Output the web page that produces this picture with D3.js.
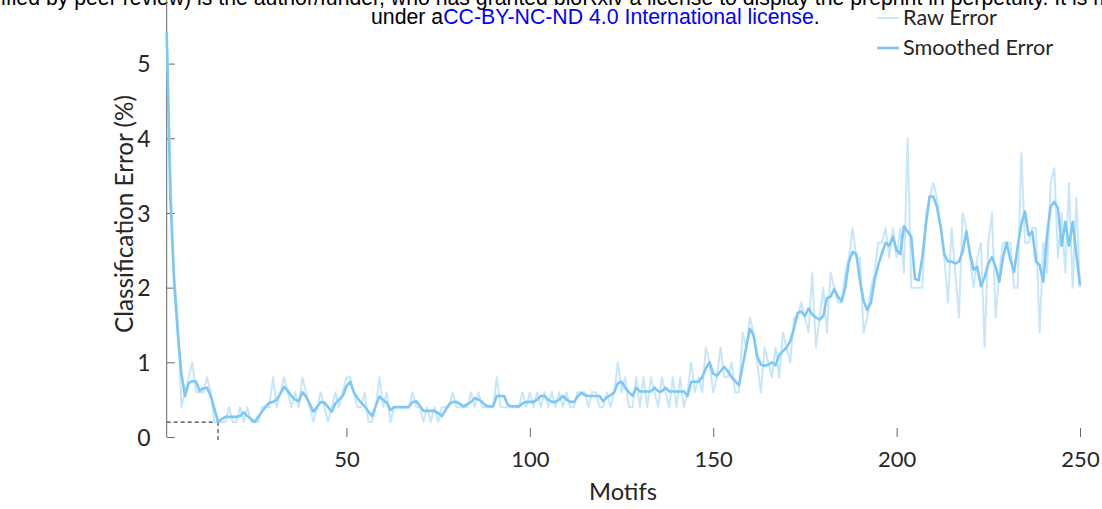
<!DOCTYPE html>
<html>
<head>
<meta charset="utf-8">
<script src="https://cdn.jsdelivr.net/npm/d3@7"></script>
<style>
  html, body { margin: 0; padding: 0; background: #fff; }
  svg { display: block; }
</style>
</head>
<body>
<svg id="chart" width="1102" height="509"></svg>
<script>
// Classification error per number of motifs
const motifs = d3.range(1, 251);

const rawError = [
  5.4, 3.6, 2.2, 1.6, 0.4, 0.6, 0.8, 1.0, 0.6, 0.6, 0.6, 0.8, 0.6, 0.2, 0.2,
  0.2, 0.2, 0.4, 0.2, 0.2, 0.4, 0.2, 0.4, 0.2, 0.2,
  0.2, 0.4, 0.4, 0.4, 0.8, 0.4, 0.6, 0.8, 0.6, 0.4, 0.6, 0.4,
  0.8, 0.6, 0.4, 0.2, 0.4, 0.6, 0.4, 0.2, 0.4, 0.6, 0.4, 0.6, 0.8,
  0.8, 0.6, 0.4, 0.4, 0.6, 0.2, 0.2, 0.4, 0.8, 0.4,
  0.6, 0.2, 0.4, 0.4, 0.4, 0.4, 0.4, 0.6, 0.4, 0.4,
  0.2, 0.4, 0.2, 0.4, 0.2, 0.4, 0.4, 0.4, 0.6, 0.4,
  0.4, 0.4, 0.4, 0.6, 0.4, 0.6, 0.4, 0.4, 0.4, 0.4,
  0.8, 0.4, 0.4, 0.4, 0.4, 0.4, 0.4, 0.6, 0.4, 0.6,
  0.4, 0.6, 0.4, 0.6, 0.4, 0.6, 0.4, 0.6, 0.4, 0.6,
  0.4, 0.4, 0.6, 0.6, 0.6, 0.4, 0.6, 0.6, 0.4, 0.4,
  0.6, 0.4, 0.6, 1.0, 0.6, 0.8, 0.4, 0.4, 0.8, 0.4,
  0.8, 0.4, 0.8, 0.6, 0.4, 0.8, 0.6, 0.4, 0.8, 0.4,
  0.8, 0.4, 0.6, 1.0, 0.6, 0.8, 0.6, 1.2, 1.0, 0.6,
  0.8, 1.2, 0.8, 0.8, 1.0, 0.6, 0.6, 1.4, 1.2, 1.6,
  1.4, 1.0, 0.6, 1.2, 1.0, 0.8, 1.2, 0.8, 1.4, 1.2,
  1.0, 1.6, 1.6, 1.8, 1.6, 1.4, 2.2, 1.2, 1.6, 2.0,
  1.4, 2.2, 2.0, 1.8, 1.8, 2.2, 2.4, 2.8, 2.4, 2.4,
  1.4, 1.6, 2.0, 2.2, 2.6, 2.6, 2.8, 2.4, 2.8, 2.4,
  2.8, 2.2, 4.0, 2.0, 2.0, 2.0, 2.0, 3.0, 3.2, 3.4,
  3.2, 2.8, 2.4, 1.8, 2.8, 2.2, 1.6, 3.0, 2.8, 2.4,
  2.0, 2.4, 2.6, 1.2, 2.6, 3.0, 1.6, 2.2, 2.6, 2.6,
  2.6, 2.0, 2.0, 3.8, 2.6, 2.6, 2.8, 2.8, 1.4, 2.6,
  2.2, 3.4, 3.6, 2.4, 3.0, 2.2, 3.4, 2.0, 3.2, 2.0
];

const smoothedError = [
  5.42, 3.20, 2.10, 1.40, 0.85, 0.55, 0.72, 0.75, 0.74, 0.62, 0.65, 0.66, 0.55, 0.38, 0.20,
  0.24, 0.27, 0.27, 0.27, 0.27, 0.28, 0.33, 0.28, 0.24, 0.20,
  0.27, 0.34, 0.41, 0.46, 0.47, 0.50, 0.58, 0.67, 0.62, 0.55,
  0.50, 0.48, 0.60, 0.54, 0.44, 0.34, 0.40, 0.47, 0.46, 0.40,
  0.34, 0.45, 0.50, 0.55, 0.68, 0.74, 0.60, 0.52, 0.46, 0.41,
  0.34, 0.28, 0.42, 0.54, 0.50, 0.46, 0.36, 0.40, 0.40, 0.40,
  0.40, 0.40, 0.47, 0.48, 0.42, 0.35, 0.35, 0.35, 0.35, 0.32,
  0.28, 0.36, 0.44, 0.47, 0.47, 0.44, 0.41, 0.44, 0.47, 0.52,
  0.50, 0.47, 0.42, 0.41, 0.41, 0.55, 0.55, 0.55, 0.43, 0.41,
  0.41, 0.41, 0.45, 0.47, 0.47, 0.47, 0.50, 0.55, 0.55, 0.50,
  0.47, 0.47, 0.50, 0.55, 0.50, 0.47, 0.47, 0.54, 0.59, 0.56,
  0.55, 0.55, 0.55, 0.55, 0.48, 0.53, 0.56, 0.60, 0.72, 0.74,
  0.66, 0.60, 0.55, 0.66, 0.61, 0.61, 0.61, 0.61, 0.66, 0.61,
  0.61, 0.66, 0.61, 0.61, 0.61, 0.61, 0.61, 0.55, 0.74, 0.74,
  0.74, 0.80, 0.92, 1.00, 0.85, 0.82, 0.88, 0.94, 0.88, 0.80,
  0.75, 0.69, 0.95, 1.20, 1.45, 1.36, 1.08, 0.97, 0.95, 0.97,
  1.00, 0.96, 1.10, 1.15, 1.20, 1.28, 1.45, 1.66, 1.68, 1.62,
  1.72, 1.64, 1.60, 1.57, 1.62, 1.86, 1.88, 1.98, 1.88, 1.82,
  2.00, 2.35, 2.48, 2.45, 2.10, 1.82, 1.70, 1.80, 2.10, 2.30,
  2.46, 2.60, 2.56, 2.68, 2.50, 2.45, 2.82, 2.75, 2.68, 2.12,
  2.10, 2.40, 2.85, 3.22, 3.22, 3.08, 2.82, 2.45, 2.35, 2.35,
  2.32, 2.35, 2.48, 2.75, 2.46, 2.24, 2.28, 2.02, 2.14, 2.32,
  2.41, 2.28, 2.08, 2.40, 2.60, 2.38, 2.21, 2.55, 2.85, 3.02,
  2.70, 2.75, 2.35, 2.30, 2.08, 2.70, 3.09, 3.15, 3.06, 2.56,
  2.88, 2.56, 2.88, 2.45, 2.03
];

// Marked minimum of the smoothed curve
const minMotif = 15;
const minError = 0.2;

const xTicks = [50, 100, 150, 200, 250];
const yTicks = [0, 1, 2, 3, 4, 5];
const seriesNames = ["Raw Error", "Smoothed Error"];

const headerLine1 = "ified by peer review) is the author/funder, who has granted bioRxiv a license to display the preprint in perpetuity. It is m";
const headerLine2 = ["under a", "CC-BY-NC-ND 4.0 International license", "."];

const rawColor = "#c8e6fb";
const smoothColor = "#7dc7f6";
const axisColor = "#666";
const textColor = "#262626";
const uiFont = "Lato, 'Open Sans', sans-serif";

const svg = d3.select("#chart");

const x = d3.scaleLinear().domain([1, 250]).range([166.7, 1080]);
const y = d3.scaleLinear().domain([0, 5]).range([437, 63.6]);

// scale a text element's font size so it spans the given width
function fit(sel, width) {
  const node = sel.node();
  const base = parseFloat(sel.attr("font-size"));
  const w = node.getComputedTextLength();
  sel.attr("font-size", (base * width / w).toFixed(2));
  return sel;
}

// header text
const h1 = svg.append("text")
  .attr("x", 1).attr("y", 5)
  .attr("font-family", "'Liberation Sans', Arial, sans-serif")
  .attr("font-size", 17).attr("fill", "#000")
  .text(headerLine1);
fit(h1, 1110);

const h2 = svg.append("text")
  .attr("x", 371).attr("y", 24)
  .attr("font-family", "'Liberation Sans', Arial, sans-serif")
  .attr("font-size", 17).attr("fill", "#000");
h2.append("tspan").text(headerLine2[0]);
h2.append("tspan").attr("fill", "#0000ff").text(headerLine2[1]);
h2.append("tspan").text(headerLine2[2]);
fit(h2, 449);

// y axis
const yAxis = d3.axisLeft(y).tickValues(yTicks).tickSize(-8).tickPadding(16).tickFormat(d3.format("d"));
const gy = svg.append("g").attr("transform", `translate(${x(1)},0)`).call(yAxis);
gy.select(".domain").remove();
gy.selectAll(".tick line").attr("stroke", axisColor);
gy.selectAll(".tick text")
  .attr("font-family", uiFont).attr("font-size", 23).attr("fill", textColor)
  .attr("dy", "0.36em");
gy.append("line")
  .attr("x1", 0).attr("x2", 0)
  .attr("y1", y(6)).attr("y2", y(0))
  .attr("stroke", axisColor).attr("stroke-width", 1);

// x axis (ticks only, pointing inward)
const xAxis = d3.axisBottom(x).tickValues(xTicks).tickSize(-9).tickPadding(20).tickFormat(d3.format("d"));
const gx = svg.append("g").attr("transform", `translate(0,${y(0)})`).call(xAxis);
gx.select(".domain").remove();
gx.selectAll(".tick line").attr("stroke", axisColor);
gx.selectAll(".tick text")
  .attr("font-family", uiFont).attr("font-size", 22).attr("fill", textColor)
  .attr("dy", "0.45em");

// axis titles
const xt = svg.append("text")
  .attr("x", 623).attr("y", 500)
  .attr("text-anchor", "middle")
  .attr("font-family", uiFont).attr("font-size", 22).attr("fill", textColor)
  .text("Motifs");
fit(xt, 68);

const yt = svg.append("text")
  .attr("transform", "translate(133,214) rotate(-90)")
  .attr("text-anchor", "middle")
  .attr("font-family", uiFont).attr("font-size", 22).attr("fill", textColor)
  .text("Classification Error (%)");
fit(yt, 238);

// minimum marker
const dash = svg.append("g")
  .attr("stroke", "#444").attr("stroke-width", 1.2).attr("stroke-dasharray", "4,3").attr("fill", "none");
dash.append("line")
  .attr("x1", x(1)).attr("x2", x(minMotif))
  .attr("y1", y(minError)).attr("y2", y(minError));
dash.append("line")
  .attr("x1", x(minMotif)).attr("x2", x(minMotif))
  .attr("y1", y(minError)).attr("y2", y(0) + 3);

// series
const line = d3.line().x((d, i) => x(motifs[i])).y(d => y(d));

svg.append("path")
  .datum(rawError)
  .attr("d", line)
  .attr("fill", "none")
  .attr("stroke", rawColor)
  .attr("stroke-width", 2)
  .attr("stroke-linejoin", "round");

svg.append("path")
  .datum(smoothedError)
  .attr("d", line)
  .attr("fill", "none")
  .attr("stroke", smoothColor)
  .attr("stroke-width", 2.6)
  .attr("stroke-linejoin", "round");

// legend
const legend = svg.append("g");
const legendRows = [
  { name: seriesNames[0], color: rawColor, width: 2, y: 18, textW: 94 },
  { name: seriesNames[1], color: smoothColor, width: 2.6, y: 48, textW: 150 }
];
legendRows.forEach(r => {
  legend.append("line")
    .attr("x1", 877).attr("x2", 899)
    .attr("y1", r.y).attr("y2", r.y)
    .attr("stroke", r.color).attr("stroke-width", r.width);
  const t = legend.append("text")
    .attr("x", 903).attr("y", r.y + 7)
    .attr("font-family", uiFont).attr("font-size", 20).attr("fill", textColor)
    .text(r.name);
  fit(t, r.textW);
});
</script>
</body>
</html>
